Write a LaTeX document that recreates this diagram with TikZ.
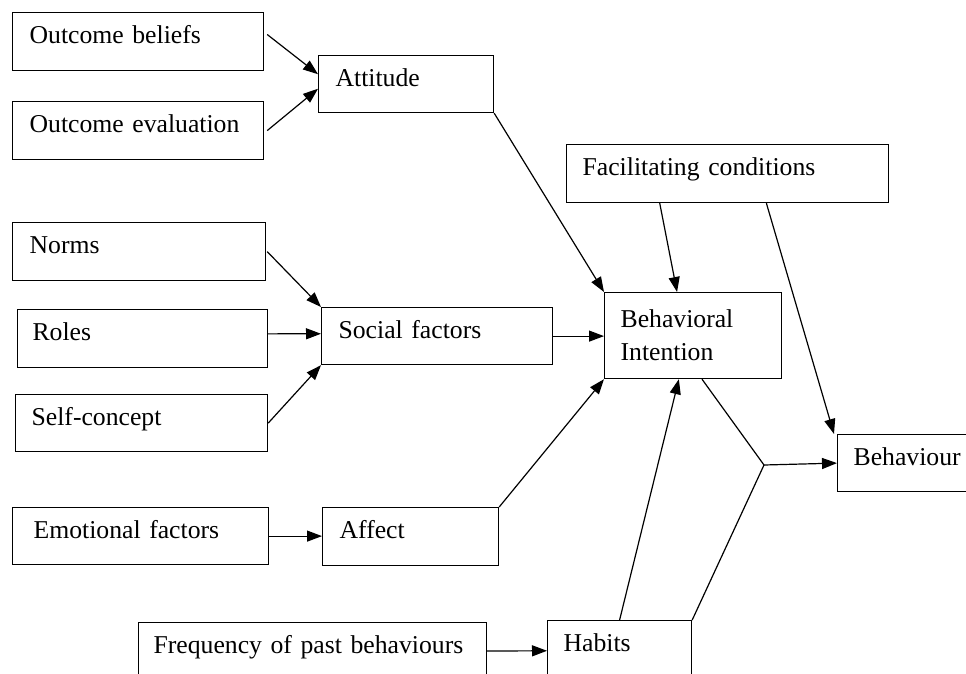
\documentclass[tikz,border=0pt]{standalone}
\usepackage{fontspec}
\setmainfont{Liberation Serif}
\usetikzlibrary{arrows.meta,calc}
\begin{document}
\begin{tikzpicture}[x=1pt,y=-1pt,
  box/.style={draw, line width=1.2pt, anchor=north west, inner sep=0pt,
    align=left, font=\fontsize{25.7}{33}\selectfont,
    text height=0.7em, text depth=0.25em},
  mbox/.style={draw, line width=1.2pt, anchor=north west, inner sep=0pt,
    align=left, font=\fontsize{25.7}{33}\selectfont},
  arr/.style={line width=1.2pt, -{Triangle[length=15pt,width=11pt]}},
  ln/.style={line width=1.2pt}]
\useasboundingbox (0,0) rectangle (966,674);
\clip (0,0) rectangle (966,674);
\fill[white] (0,0) rectangle (966,674);
% boxes
\node[box, minimum width=251, minimum height=58, text width=217] (ob) at (12,12) {Outcome beliefs};
\node[box, minimum width=251, minimum height=58, text width=217] (oe) at (12,101) {Outcome evaluation};
\node[box, minimum width=175, minimum height=57, text width=141] (att) at (318,55) {Attitude};
\node[box, minimum width=322, minimum height=58, text width=290] (fc) at (566,144) {Facilitating conditions};
\node[box, minimum width=253, minimum height=58, text width=219] (norms) at (12,222) {Norms};
\node[box, minimum width=250, minimum height=58, text width=220] (roles) at (17,309) {Roles};
\node[box, minimum width=252, minimum height=57, text width=220] (self) at (15,394) {Self-concept};
\node[box, minimum width=231, minimum height=57, text width=197] (soc) at (321,307) {Social factors};
\node[mbox, minimum width=177, minimum height=86, text width=145] (bi) at (604,292) {Behavioral\\Intention};
\node[box, minimum width=163, minimum height=57, text width=131] (beh) at (837,434) {Behaviour};
\node[box, minimum width=256, minimum height=57, text width=214] (emo) at (12,507) {Emotional factors};
\node[box, minimum width=176, minimum height=58, text width=142] (aff) at (322,507) {Affect};
\node[box, minimum width=348, minimum height=58, text width=318] (freq) at (138,622) {Frequency of past behaviours};
\node[box, minimum width=144, minimum height=58, text width=112] (hab) at (547,620) {Habits};
\coordinate (j) at (764,465);
% connectors
\draw[arr] ($(ob.north east)!0.38!(ob.south east)+(3,0)$) -- ($(att.north west)!0.33!(att.south west)$);
\draw[arr] ($(oe.east)+(3,0)$) -- ($(att.north west)!0.58!(att.south west)$);
\draw[arr] ($(norms.east)+(1,0)$) -- (soc.north west);
\draw[arr] ($(roles.north east)!0.42!(roles.south east)$) -- ($(soc.north west)!0.46!(soc.south west)$);
\draw[arr] ($(self.north east)!0.5!(self.south east)$) -- (soc.south west);
\draw[arr] (soc.east) -- (soc.east -| bi.west);
\draw[arr] (att.south east) -- (bi.north west);
\draw[arr] ($(fc.south west)!0.29!(fc.south east)$) -- ($(bi.north west)!0.41!(bi.north east)$);
\draw[arr] ($(fc.south west)!0.62!(fc.south east)$) -- ($(beh.north west)+(-3,0)$);
\draw[arr] (aff.north east) -- (bi.south west);
\draw[arr] (hab.north) -- ($(bi.south west)!0.42!(bi.south east)$);
\draw[ln] ($(bi.south west)!0.55!(bi.south east)$) -- (j);
\draw[ln] (hab.north east) -- (j);
\draw[arr] (j) -- ($(beh.north west)!0.5!(beh.south west)$);
\draw[arr] (emo.east) -- (emo.east -| aff.west);
\draw[arr] ($(freq.north east)!0.49!(freq.south east)$) -- ($(hab.north west)!0.52!(hab.south west)$);
\end{tikzpicture}
\end{document}
